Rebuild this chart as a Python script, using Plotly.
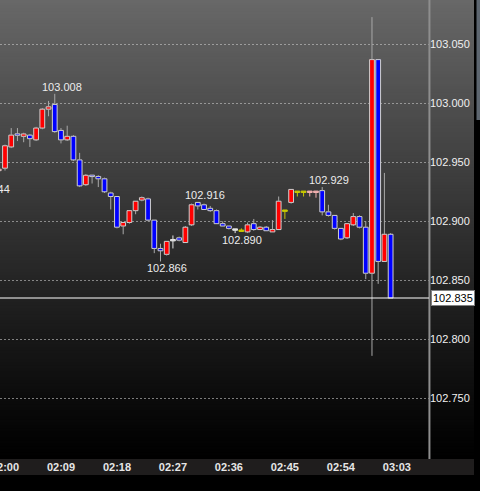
import plotly.graph_objects as go

DAY = "2024-01-01 "

# ---- data ----
times = ["01:59", "02:00", "02:01", "02:02", "02:03", "02:04", "02:05", "02:06", "02:07", "02:08",
         "02:09", "02:10", "02:11", "02:12", "02:13", "02:14", "02:15", "02:16", "02:17", "02:18",
         "02:19", "02:20", "02:21", "02:22", "02:23", "02:24", "02:25", "02:26", "02:27", "02:28",
         "02:29", "02:30", "02:31", "02:32", "02:33", "02:34", "02:35", "02:36", "02:37", "02:38",
         "02:39", "02:40", "02:41", "02:42", "02:43", "02:44", "02:45", "02:46", "02:47", "02:48",
         "02:49", "02:50", "02:51", "02:52", "02:53", "02:54", "02:55", "02:56", "02:57", "02:58",
         "02:59", "03:00", "03:01", "03:02"]
opens = [102.943, 102.945, 102.963, 102.974, 102.972, 102.973, 102.969, 102.979, 102.995, 102.999,
         102.977, 102.969, 102.972, 102.952, 102.931, 102.939, 102.938, 102.936, 102.924, 102.921,
         102.896, 102.899, 102.909, 102.918, 102.919, 102.901, 102.877, 102.872, 102.884, 102.886,
         102.882, 102.897, 102.916, 102.914, 102.911, 102.909, 102.898, 102.896, 102.893, 102.892,
         102.891, 102.898, 102.893, 102.895, 102.891, 102.893, 102.909, 102.916, 102.925, 102.925,
         102.925, 102.925, 102.926, 102.908, 102.905, 102.894, 102.886, 102.897, 102.904, 102.895,
         102.856, 103.037, 102.866, 102.889]
highs = [102.945, 102.965, 102.979, 102.979, 102.975, 102.974, 102.980, 102.996, 103.002, 103.008,
         102.979, 102.981, 102.973, 102.958, 102.940, 102.939, 102.939, 102.937, 102.925, 102.921,
         102.899, 102.909, 102.917, 102.921, 102.920, 102.901, 102.881, 102.883, 102.888, 102.887,
         102.896, 102.915, 102.916, 102.915, 102.913, 102.910, 102.900, 102.896, 102.893, 102.894,
         102.899, 102.902, 102.896, 102.896, 102.901, 102.921, 102.909, 102.927, 102.925, 102.925,
         102.925, 102.925, 102.929, 102.914, 102.905, 102.894, 102.898, 102.907, 102.905, 102.900,
         103.073, 103.037, 102.941, 102.890]
lows = [102.942, 102.943, 102.962, 102.968, 102.967, 102.963, 102.968, 102.978, 102.989, 102.975,
        102.966, 102.968, 102.951, 102.929, 102.930, 102.932, 102.929, 102.924, 102.910, 102.894,
        102.889, 102.898, 102.906, 102.917, 102.900, 102.873, 102.866, 102.871, 102.877, 102.883,
        102.882, 102.896, 102.910, 102.910, 102.908, 102.898, 102.896, 102.893, 102.890, 102.892,
        102.890, 102.892, 102.893, 102.892, 102.891, 102.893, 102.902, 102.915, 102.921, 102.921,
        102.921, 102.920, 102.905, 102.904, 102.893, 102.884, 102.885, 102.896, 102.894, 102.851,
        102.786, 102.847, 102.866, 102.835]
closes = [102.944, 102.964, 102.973, 102.973, 102.974, 102.970, 102.979, 102.995, 102.997, 102.976,
          102.969, 102.972, 102.952, 102.930, 102.939, 102.938, 102.936, 102.925, 102.921, 102.895,
          102.899, 102.909, 102.917, 102.920, 102.901, 102.877, 102.875, 102.883, 102.884, 102.884,
          102.895, 102.914, 102.913, 102.910, 102.909, 102.898, 102.896, 102.894, 102.893, 102.892,
          102.897, 102.893, 102.895, 102.892, 102.893, 102.917, 102.909, 102.927, 102.925, 102.925,
          102.925, 102.925, 102.908, 102.905, 102.894, 102.885, 102.898, 102.904, 102.895, 102.856,
          103.037, 102.866, 102.889, 102.835]

x_tick_times = ["02:00", "02:09", "02:18", "02:27", "02:36", "02:45", "02:54", "03:03"]
y_tick_values = [102.75, 102.80, 102.85, 102.90, 102.95, 103.00, 103.05]

extreme_times = ["02:08", "02:25", "02:31", "02:37", "02:51"]
extreme_prices = [103.008, 102.866, 102.916, 102.890, 102.929]
extreme_kinds = ["high", "low", "high", "low", "high"]
edge_label = "102.944"
last_price = 102.835

# ---- styles ----
UP = "#ff0000"
DOWN = "#0000ff"
OUTLINE = "#cfcfcf"
WICK = "#a9a9a9"
DOJI_COLORS = {"02:27": "#e6e6e6", "02:37": "#e6e6e6", "02:38": "#c8c800", "02:45": "#c8c800",
               "02:47": "#c8c800", "02:48": "#c8c800", "02:49": "#f2b0b0", "02:50": "#f2b0b0"}
MIN_BODY = 0.0012
FONT = "Liberation Sans, Arial, sans-serif"
W, H = 429.0, 459.0  # plot area in px

xs = [DAY + t for t in times]
bases, heights, fills, outlines = [], [], [], []
wicks = {}
for t, x, o, h, l, c in zip(times, xs, opens, highs, lows, closes):
    if c > o:
        fill, ln, wc = UP, OUTLINE, WICK
    elif c < o:
        fill, ln, wc = DOWN, OUTLINE, WICK
    else:
        col = DOJI_COLORS.get(t, OUTLINE)
        fill, ln, wc = col, col, col
    lo_b, hi_b = min(o, c), max(o, c)
    if hi_b - lo_b < MIN_BODY:
        mid = (lo_b + hi_b) / 2
        lo_b, hi_b = mid - MIN_BODY / 2, mid + MIN_BODY / 2
    bases.append(lo_b)
    heights.append(hi_b - lo_b)
    fills.append(fill)
    outlines.append(ln)
    seg = wicks.setdefault(wc, ([], []))
    if l < lo_b:
        seg[0].extend([x, x, None]); seg[1].extend([l, lo_b, None])
    if h > hi_b:
        seg[0].extend([x, x, None]); seg[1].extend([hi_b, h, None])

fig = go.Figure()
for wc, (wx, wy) in wicks.items():
    fig.add_trace(go.Scatter(x=wx, y=wy, mode="lines", line=dict(color=wc, width=1),
                             hoverinfo="skip", showlegend=False))
fig.add_trace(go.Bar(x=xs, y=heights, base=bases, width=46000,
                     marker=dict(color=fills, line=dict(color=outlines, width=1)),
                     hoverinfo="skip", showlegend=False))

shapes = []
# vertical gradient background (plot + price panel)
N = 153
for i in range(N):
    y0 = i * H / N
    y1 = (i + 1) * H / N
    f = 1 - (y0 + y1) / 2 / H
    v = int(round(104 * f ** 1.1))
    shapes.append(dict(type="rect", xref="paper", yref="paper", x0=0, x1=474 / W,
                       y0=1 - y1 / H, y1=1 - y0 / H + 0.0005, line=dict(width=0),
                       fillcolor=f"rgb({v},{v},{v})", layer="below"))
# bottom time strip
shapes.append(dict(type="rect", xref="paper", yref="paper", x0=0, x1=474 / W,
                   y0=-16 / H, y1=0, line=dict(width=0), fillcolor="#1f1d1d", layer="below"))
# right edge strip
shapes.append(dict(type="rect", xref="paper", yref="paper", x0=476.5 / W, x1=480 / W,
                   y0=1 - 120 / H, y1=1, line=dict(width=0), fillcolor="#5d6670", layer="below"))
# separator of price panel
shapes.append(dict(type="line", xref="paper", yref="paper", x0=1.001, x1=1.001, y0=0, y1=1,
                   line=dict(color="#8e8e8e", width=2)))
# current price line
shapes.append(dict(type="line", xref="paper", yref="y", x0=0, x1=1, y0=last_price, y1=last_price,
                   line=dict(color="#ffffff", width=1)))

annotations = []
for t, p, k in zip(extreme_times, extreme_prices, extreme_kinds):
    annotations.append(dict(x=DAY + t, y=p, xref="x", yref="y", text=f"{p:.3f}", showarrow=False,
                            xshift=7, yshift=7 if k == "high" else -7,
                            font=dict(family=FONT, size=11, color="#ececec")))
annotations.append(dict(x=7.5 / W, y=1 - 189 / H, xref="paper", yref="paper", text=edge_label,
                        xanchor="right", xshift=4, showarrow=False,
                        font=dict(family=FONT, size=11, color="#ececec")))
annotations.append(dict(x=430.5 / W, y=last_price, xref="paper", yref="y", text=f"{last_price:.3f}",
                        xanchor="left", showarrow=False, bgcolor="#ffffff", bordercolor="#808080",
                        borderwidth=1, borderpad=1,
                        font=dict(family=FONT, size=11, color="#000000")))

fig.update_layout(
    width=480, height=491,
    margin=dict(l=0, r=51, t=0, b=32, autoexpand=False),
    paper_bgcolor="#000000", plot_bgcolor="rgba(0,0,0,0)",
    barmode="overlay", showlegend=False,
    shapes=shapes, annotations=annotations,
    xaxis=dict(type="date", range=[DAY + "01:59:11.76", DAY + "03:08:10.2"],
               tickvals=[DAY + t for t in x_tick_times], ticktext=x_tick_times,
               showgrid=False, zeroline=False, showline=False, ticks="", automargin=False,
               ticklabeloverflow="allow",
               tickfont=dict(family=FONT, size=11, color="#e6e6e6", weight="bold")),
    yaxis=dict(side="right", range=[102.6986, 103.0875], tickvals=y_tick_values,
               ticktext=[f"{v:.3f}" for v in y_tick_values], automargin=False,
               showgrid=True, gridcolor="rgba(200,200,200,0.6)", griddash="2px,2px", gridwidth=1,
               zeroline=False, showline=False, ticks="",
               tickfont=dict(family=FONT, size=11, color="#f0f0f0")),
)

fig.write_html("out.html", config={"displayModeBar": False},
               post_script="document.body.style.margin='0';document.body.style.overflow='hidden';")
